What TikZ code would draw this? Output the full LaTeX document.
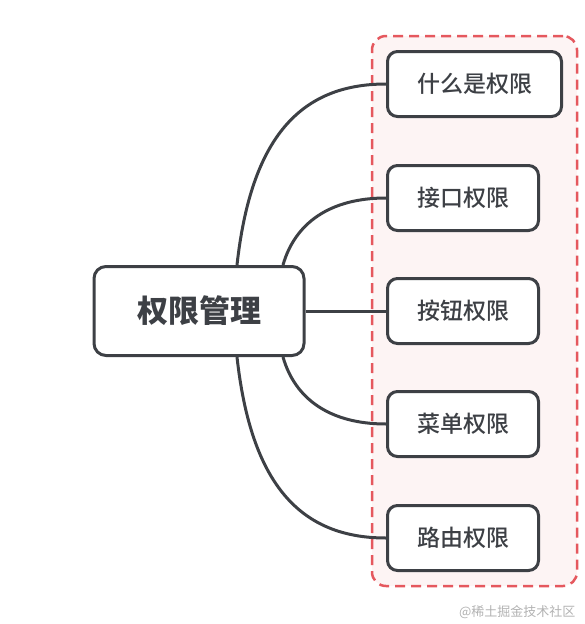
\documentclass[tikz,border=0pt]{standalone}
\usepackage{fontspec}
\setmainfont{Noto Sans CJK SC}
\newfontfamily\midfont{Noto Sans CJK SC Medium}
\usepackage{xcolor}
\usetikzlibrary{positioning,fit,backgrounds}
\definecolor{ink}{HTML}{3D4045}
\definecolor{dashred}{HTML}{E5585E}
\definecolor{pinkbg}{HTML}{FDF4F4}
\begin{document}
\begin{tikzpicture}[
    x=1pt,y=-1pt,
    box/.style={draw=ink,fill=white,rectangle,rounded corners=10pt,line width=3pt,text=ink,
                minimum height=65pt,inner xsep=29.5pt,font=\fontsize{23}{23}\selectfont\midfont,anchor=west},
    link/.style={draw=ink,line width=3pt}
]
\useasboundingbox (0,0) rectangle (584,624);
\node[box,rounded corners=12pt,minimum height=89pt,inner xsep=43pt,anchor=center,
      font=\fontsize{31}{31}\selectfont\bfseries] (root) at (199,311) {权限管理};
\node[box] (what) at (386,84) {什么是权限};
\node[box] (api) at (386,198) {接口权限};
\node[box] (button) at (386,311) {按钮权限};
\node[box] (menu) at (386,424) {菜单权限};
\node[box] (route) at (386,538) {路由权限};
\begin{scope}[on background layer]
\node[draw=dashred,fill=pinkbg,line width=2.5pt,dash pattern=on 10pt off 6pt,rounded corners=14pt,
      inner sep=14pt,fit=(what)(api)(button)(menu)(route)] (group) {};
\draw[link] ([xshift=38pt]root.north) .. controls +(14,-127) and +(-86,0) .. (what.west);
\draw[link] ([xshift=84pt]root.north) .. controls +(12,-42) and +(-56,0) .. (api.west);
\draw[link] (root.east) -- (button.west);
\draw[link] ([xshift=84pt]root.south) .. controls +(12,42) and +(-56,0) .. (menu.west);
\draw[link] ([xshift=38pt]root.south) .. controls +(14,127) and +(-86,0) .. (route.west);
\end{scope}
\node[anchor=east,text=black!30,font=\fontsize{13}{13}\selectfont] (mark) at (579,612) {@稀土掘金技术社区};
\end{tikzpicture}
\end{document}
